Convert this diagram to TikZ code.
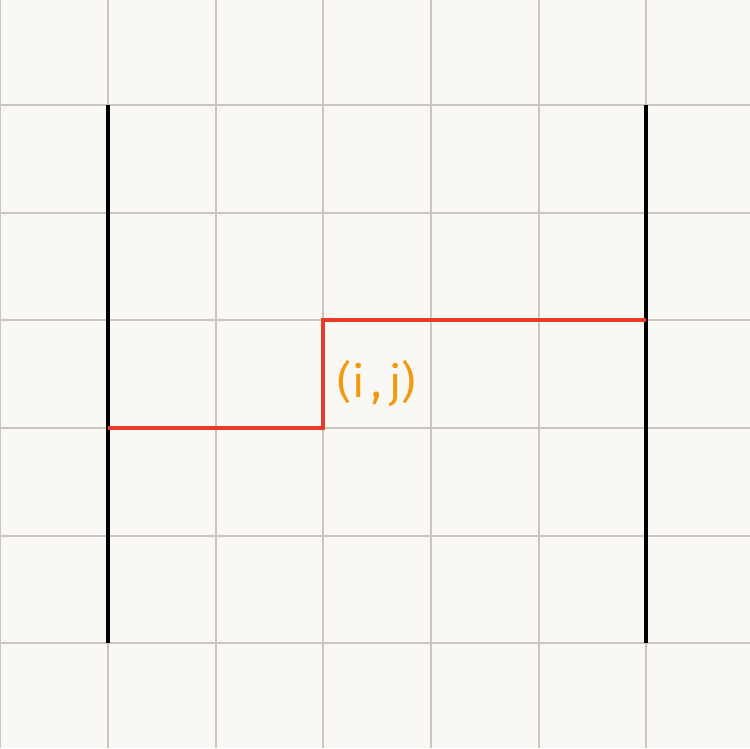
\documentclass[tikz,border=0pt]{standalone}
\usepackage{fontspec}
\setsansfont{Fira Sans}
\usepackage{tikz}
\usetikzlibrary{positioning,calc}
\definecolor{paper}{HTML}{FAF8F4}
\definecolor{gridgray}{HTML}{C9C6BF}
\definecolor{cutred}{HTML}{E8392A}
\definecolor{labelorange}{HTML}{F29A0E}
\tikzset{
  gridline/.style={draw=gridgray, line width=1.4pt},
  wall/.style={draw=black, line width=2.2pt},
  cutpath/.style={draw=cutred, line width=1.8pt},
  celllabel/.style={font=\sffamily\fontsize{25}{27}\selectfont, text=labelorange, inner sep=0pt}
}
\begin{document}
\begin{tikzpicture}[x=0.02cm, y=-0.02cm]
  % paper
  \fill[paper] (0,0) rectangle (750,748);
  \useasboundingbox (0,0) rectangle (750,748);
  % grid
  \foreach \gx in {0,108,216,323,431,539,646} {
    \draw[gridline] (\gx,0) -- (\gx,748);
  }
  \foreach \gy in {105,213,320,428,536,643} {
    \draw[gridline] (0,\gy) -- (750,\gy);
  }
  % walls
  \coordinate (lefttop) at (108,105);
  \coordinate (leftbot) at (108,643);
  \coordinate (righttop) at (646,105);
  \coordinate (rightbot) at (646,643);
  \draw[wall] (lefttop) -- (leftbot);
  \draw[wall] (righttop) -- (rightbot);
  % red path
  \coordinate (start) at (108,428);
  \coordinate (step) at (323,428);
  \coordinate (stepup) at (323,320);
  \coordinate (finish) at (646,320);
  \draw[cutpath] (start) -- (step) -- (stepup) -- (finish);
  % label
  \node[celllabel] (ij) at (377,384) {(i\,,\,j)};
\end{tikzpicture}
\end{document}
